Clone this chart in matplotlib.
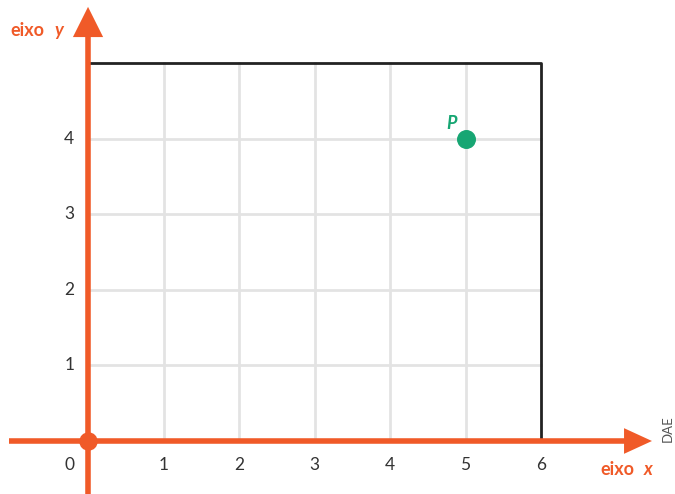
import matplotlib.pyplot as plt

plt.rcParams['font.family'] = ['Lato', 'DejaVu Sans']

# Data
x_ticks = [1, 2, 3, 4, 5, 6]
y_ticks = [1, 2, 3, 4]
box_w, box_h = 6, 5
point_x, point_y = [5], [4]
point_label = 'P'

orange = '#f05a28'
green = '#17a673'
grid_c = '#e3e3e3'

fig = plt.figure(figsize=(6.75, 4.94), dpi=100)
ax = fig.add_axes([0, 0, 1, 1])
ax.set_xlim(-1.166, 7.775)
ax.set_ylim(-0.702, 5.841)
ax.axis('off')

# Grid
for x in range(1, box_w):
    ax.plot([x, x], [0, box_h], color=grid_c, lw=2, zorder=1)
for y in range(1, box_h):
    ax.plot([0, box_w], [y, y], color=grid_c, lw=2, zorder=1)

# Box
ax.plot([0, box_w, box_w], [box_h, box_h, 0], color='#222222', lw=2, zorder=2)

# Axes arrows
ax.plot([-1.05, 7.15], [0, 0], color=orange, lw=4, zorder=3, solid_capstyle='butt')
ax.fill([7.1, 7.47, 7.1], [-0.17, 0, 0.17], color=orange, zorder=3, lw=0)
ax.plot([0, 0], [-0.7, 5.4], color=orange, lw=4, zorder=3, solid_capstyle='butt')
ax.fill([-0.2, 0, 0.2], [5.35, 5.75, 5.35], color=orange, zorder=3, lw=0)
ax.scatter([0], [0], s=150, color=orange, zorder=4)

# Tick labels
for x in x_ticks:
    ax.text(x, -0.32, str(x), ha='center', va='center', fontsize=12.5, color='#333333')
for y in y_ticks:
    ax.text(-0.25, y, str(y), ha='center', va='center', fontsize=12.5, color='#333333')
ax.text(-0.25, -0.32, '0', ha='center', va='center', fontsize=12.5, color='#333333')

# Axis labels
ax.text(-1.03, 5.44, 'eixo', ha='left', va='center', fontsize=13, color=orange, fontweight='bold')
ax.text(-0.44, 5.44, 'y', ha='left', va='center', fontsize=13, color=orange, fontweight='bold', style='italic')
ax.text(6.79, -0.38, 'eixo', ha='left', va='center', fontsize=13, color=orange, fontweight='bold')
ax.text(7.36, -0.38, 'x', ha='left', va='center', fontsize=13, color=orange, fontweight='bold', style='italic')

# Point
ax.scatter(point_x, point_y, s=160, color=green, zorder=5)
ax.text(point_x[0] - 0.18, point_y[0] + 0.2, point_label, ha='center', va='center', fontsize=13,
        color=green, fontweight='bold', style='italic')

# Credit
ax.text(7.68, 0.17, 'DAE', ha='center', va='center', rotation=90, fontsize=9.5, color='#555555')

fig.savefig('out.png', dpi=100)
